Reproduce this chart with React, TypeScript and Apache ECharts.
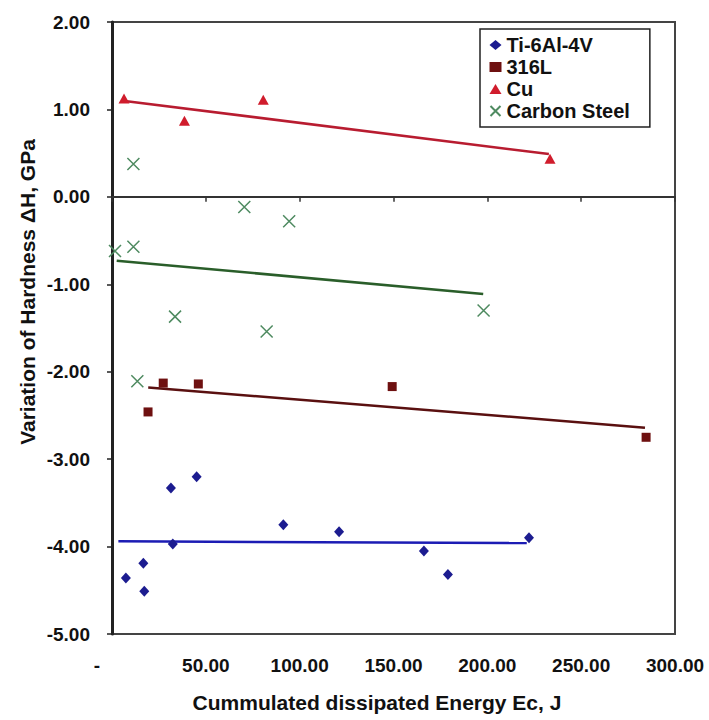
import { useEffect, useRef } from 'react';
import * as echarts from 'echarts';

// Cumulated dissipated energy (J) vs. hardness variation (GPa)
const seriesNames = ['Ti-6Al-4V', '316L', 'Cu', 'Carbon Steel'];

const tiEnergy = [7.4, 16.7, 17.2, 31.4, 32.4, 45.1, 91.3, 121, 166.2, 179, 222.2];
const tiHardness = [-4.36, -4.19, -4.51, -3.33, -3.97, -3.2, -3.75, -3.83, -4.05, -4.32, -3.9];

const ssEnergy = [19.2, 27.3, 46, 149.3, 284.6];
const ssHardness = [-2.46, -2.13, -2.14, -2.17, -2.75];

const cuEnergy = [6.4, 38.6, 80.6, 233.4];
const cuHardness = [1.125, 0.87, 1.11, 0.435];

const csEnergy = [1.6, 11.4, 11.4, 13.5, 33.6, 70.5, 82.4, 94.4, 198];
const csHardness = [-0.62, 0.375, -0.57, -2.11, -1.37, -0.115, -1.54, -0.28, -1.3];

// linear trend lines (end points)
const tiTrendX = [3.4, 221];
const tiTrendY = [-3.94, -3.96];
const ssTrendX = [19.3, 284];
const ssTrendY = [-2.18, -2.64];
const cuTrendX = [5.7, 232.8];
const cuTrendY = [1.1, 0.49];
const csTrendX = [2.5, 197.8];
const csTrendY = [-0.73, -1.11];

const xMin = 0;
const xMax = 300;
const xStep = 50;
const yMin = -5;
const yMax = 2;
const yStep = 1;

const FONT = "'Liberation Sans', Arial, sans-serif";
const CROSS = 'path://M0,0L10,10M10,0L0,10';

const pair = (xs: number[], ys: number[]) => xs.map((x, i) => [x, ys[i]]);

export default function App() {
    const chartRef = useRef<HTMLDivElement>(null);

    useEffect(() => {
        if (!chartRef.current) return;
        const chart = echarts.init(chartRef.current, null, { renderer: 'svg' });

        const trend = (name: string, xs: number[], ys: number[], color: string, width: number) => ({
            name,
            type: 'line',
            data: pair(xs, ys),
            symbol: 'none',
            silent: true,
            lineStyle: { color, width },
            z: 2,
        });

        const option = {
            animation: false,
            backgroundColor: '#ffffff',
            grid: {
                left: 112,
                right: 34,
                top: 22,
                bottom: 86,
                show: true,
                borderColor: '#444',
                borderWidth: 2,
                backgroundColor: '#ffffff',
            },
            legend: {
                data: seriesNames,
                orient: 'vertical',
                left: 480,
                top: 29,
                padding: [6, 20, 6, 8],
                itemGap: 2,
                itemWidth: 12,
                itemHeight: 10,
                backgroundColor: '#ffffff',
                borderColor: '#222',
                borderWidth: 1.5,
                borderRadius: 0,
                textStyle: {
                    fontFamily: FONT,
                    fontSize: 20,
                    fontWeight: 'bold',
                    color: '#111',
                },
            },
            xAxis: [
                {
                    type: 'value',
                    position: 'bottom',
                    min: xMin,
                    max: xMax,
                    interval: xStep,
                    axisLine: { show: false, onZero: false },
                    axisTick: { show: false },
                    splitLine: { show: false },
                    axisLabel: {
                        margin: 22,
                        fontFamily: FONT,
                        fontSize: 19,
                        fontWeight: 'bold',
                        color: '#111',
                        formatter: (v: number) => (v === 0 ? '{d|-}' : v.toFixed(2)),
                        rich: {
                            d: {
                                fontFamily: FONT,
                                fontSize: 19,
                                fontWeight: 'bold',
                                color: '#111',
                                padding: [0, 30, 0, 0],
                            },
                        },
                    },
                },
                {
                    type: 'value',
                    position: 'bottom',
                    min: xMin,
                    max: xMax,
                    interval: xStep,
                    axisLine: { show: true, onZero: true, lineStyle: { color: '#333', width: 2 } },
                    axisTick: { show: true, length: 5, lineStyle: { color: '#333', width: 1.5 } },
                    axisLabel: { show: false },
                    splitLine: { show: false },
                },
            ],
            yAxis: {
                type: 'value',
                min: yMin,
                max: yMax,
                interval: yStep,
                axisLine: { show: true, onZero: false, lineStyle: { color: '#222', width: 3 } },
                axisTick: { show: true, length: 5, lineStyle: { color: '#222', width: 1.5 } },
                splitLine: { show: false },
                axisLabel: {
                    margin: 22,
                    fontFamily: FONT,
                    fontSize: 19,
                    fontWeight: 'bold',
                    color: '#111',
                    formatter: (v: number) => v.toFixed(2),
                },
            },
            graphic: [
                {
                    type: 'text',
                    x: 377,
                    y: 702,
                    style: {
                        text: 'Cummulated dissipated Energy Ec, J',
                        fontFamily: FONT,
                        fontSize: 21,
                        fontWeight: 'bold',
                        fill: '#111',
                        align: 'center',
                        verticalAlign: 'middle',
                    },
                },
                {
                    type: 'text',
                    x: 27,
                    y: 292,
                    rotation: Math.PI / 2,
                    style: {
                        text: 'Variation of Hardness ΔH, GPa',
                        fontFamily: FONT,
                        fontSize: 21,
                        fontWeight: 'bold',
                        fill: '#111',
                        align: 'center',
                        verticalAlign: 'middle',
                    },
                },
            ],
            series: [
                trend('Ti-6Al-4V trend', tiTrendX, tiTrendY, '#1c1cb4', 2.5),
                trend('316L trend', ssTrendX, ssTrendY, '#5a1010', 2.5),
                trend('Cu trend', cuTrendX, cuTrendY, '#b81c30', 2.5),
                trend('Carbon Steel trend', csTrendX, csTrendY, '#2a5e2a', 2.5),
                {
                    name: 'Ti-6Al-4V',
                    type: 'scatter',
                    data: pair(tiEnergy, tiHardness),
                    symbol: 'diamond',
                    symbolSize: [10, 11],
                    itemStyle: { color: '#1c1c90', opacity: 1 },
                    z: 3,
                },
                {
                    name: '316L',
                    type: 'scatter',
                    data: pair(ssEnergy, ssHardness),
                    symbol: 'rect',
                    symbolSize: 9,
                    itemStyle: { color: '#6e1010', opacity: 1 },
                    z: 3,
                },
                {
                    name: 'Cu',
                    type: 'scatter',
                    data: pair(cuEnergy, cuHardness),
                    symbol: 'triangle',
                    symbolSize: [11, 10],
                    itemStyle: { color: '#d01c2c', opacity: 1 },
                    z: 3,
                },
                {
                    name: 'Carbon Steel',
                    type: 'scatter',
                    data: pair(csEnergy, csHardness),
                    symbol: CROSS,
                    symbolSize: 12,
                    itemStyle: { color: 'none', borderColor: '#4e8a60', borderWidth: 1.5, opacity: 1 },
                    z: 3,
                },
            ],
        };

        chart.setOption(option as any);

        return () => {
            chart.dispose();
        };
    }, []);

    return (
        <div
            ref={chartRef}
            style={{ position: 'fixed', left: 0, top: 0, width: 709, height: 720, background: '#fff' }}
        />
    );
}
